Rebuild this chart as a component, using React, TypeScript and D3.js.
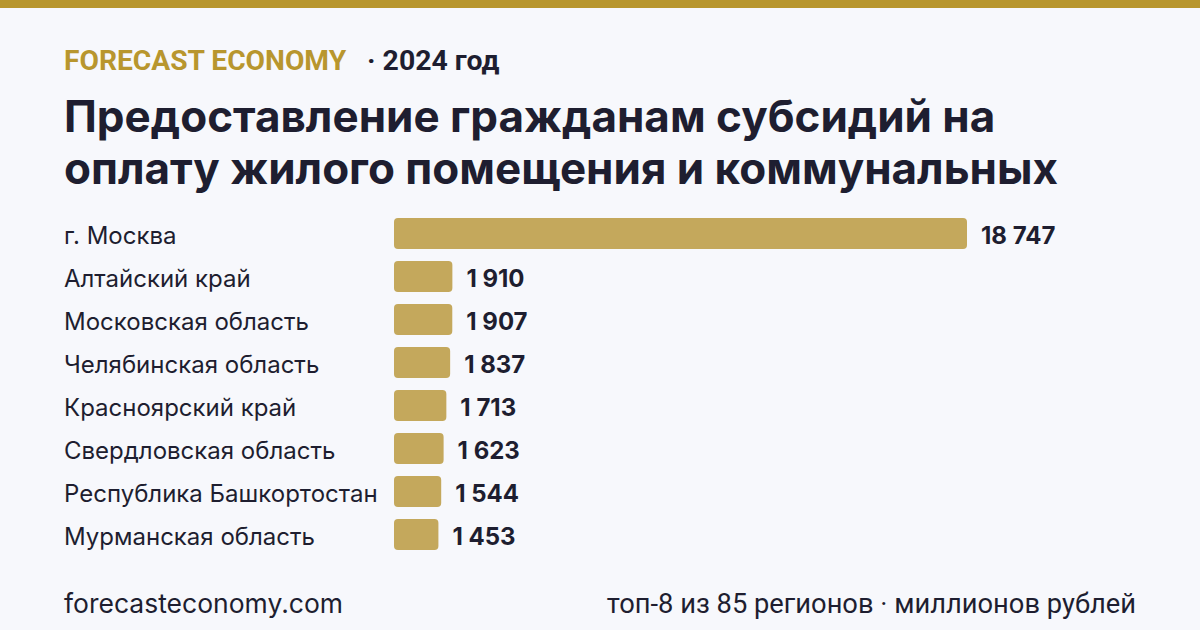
import React from "react";
import * as d3 from "d3";

const categories = [
  "г. Москва",
  "Алтайский край",
  "Московская область",
  "Челябинская область",
  "Красноярский край",
  "Свердловская область",
  "Республика Башкортостан",
  "Мурманская область",
];
const values = [18747, 1910, 1907, 1837, 1713, 1623, 1544, 1453];
const titleLines = [
  "Предоставление гражданам субсидий на",
  "оплату жилого помещения и коммунальных",
];
const brand = "FORECAST ECONOMY";
const yearLabel = "· 2024 год";
const footerLeft = "forecasteconomy.com";
const footerRight = "топ-8 из 85 регионов · миллионов рублей";

const W = 1200;
const H = 630;
const GOLD = "#B8962E";
const BAR = "#C4A85C";
const DARK = "#1E1E30";
const BG = "#F7F8FC";

const fmt = (v: number) => d3.format(",")(v).replace(/,/g, " ");

export default function App() {
  const x = d3.scaleLinear().domain([0, d3.max(values) as number]).range([394, 967]);
  const y = d3
    .scaleBand<string>()
    .domain(categories)
    .range([212, 556])
    .paddingInner(0.28)
    .paddingOuter(0.14);

  return (
    <svg
      width={W}
      height={H}
      style={{ position: "absolute", left: 0, top: 0, display: "block" }}
    >
      <rect x={0} y={0} width={W} height={H} fill={BG} />
      <rect x={0} y={0} width={W} height={8} fill={GOLD} />
      <text x={64} y={70} fontFamily="Roboto" fontWeight={700} fontSize={28.2} fill={GOLD}>
        {brand}
      </text>
      <text x={367} y={70} fontFamily="Roboto" fontWeight={700} fontSize={28.4} fill={DARK}>
        {yearLabel}
      </text>
      {titleLines.map((t, i) => (
        <text
          key={i}
          x={64}
          y={132 + i * 52}
          fontFamily="Inter"
          fontWeight={700}
          fontSize={44}
          fill={DARK}
        >
          {t}
        </text>
      ))}
      {categories.map((c, i) => {
        const yy = y(c) as number;
        const bh = y.bandwidth();
        return (
          <g key={c}>
            <text
              x={64}
              y={yy + bh / 2 + 2}
              dy="0.35em"
              fontFamily="Inter"
              fontSize={24}
              fill={DARK}
            >
              {c}
            </text>
            <rect
              x={x(0)}
              y={yy}
              width={x(values[i]) - x(0)}
              height={bh}
              rx={4}
              fill={BAR}
            />
            <text
              x={x(values[i]) + 14}
              y={yy + bh / 2 + 2}
              dy="0.35em"
              fontFamily="Inter"
              fontWeight={700}
              fontSize={24}
              fill={DARK}
            >
              {fmt(values[i])}
            </text>
          </g>
        );
      })}
      <text x={64} y={613} fontFamily="Inter" fontSize={26.5} fill={DARK}>
        {footerLeft}
      </text>
      <text
        x={1136}
        y={613}
        textAnchor="end"
        fontFamily="Roboto"
        fontSize={27.3}
        fill={DARK}
      >
        {footerRight}
      </text>
    </svg>
  );
}
